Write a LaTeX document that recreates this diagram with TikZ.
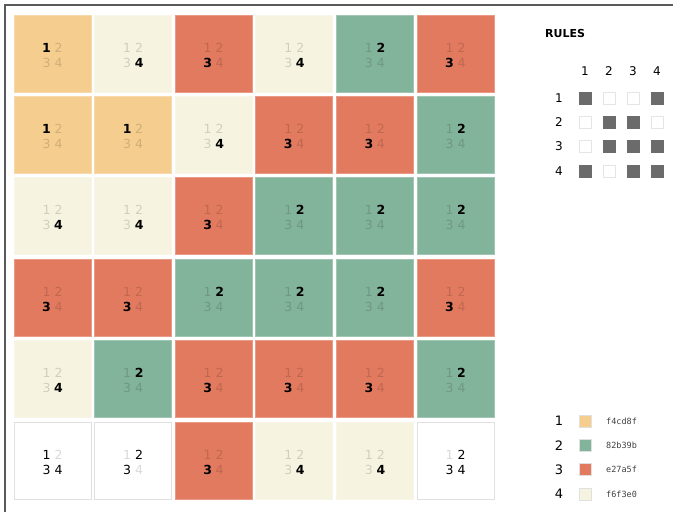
\documentclass[tikz,border=0pt]{standalone}
\usepackage{fontspec}
\setmainfont{DejaVu Sans}
\setmonofont{DejaVu Sans Mono}
\usepackage{tikz}
\usetikzlibrary{positioning,calc}
\definecolor{tile1}{HTML}{F4CD8F}
\definecolor{tile2}{HTML}{82B39B}
\definecolor{tile3}{HTML}{E27A5F}
\definecolor{tile4}{HTML}{F6F3E0}
\definecolor{ruleOn}{HTML}{6B6B6B}
\definecolor{frameGray}{HTML}{5A5A5A}

\begin{document}
\begin{tikzpicture}[
            x=1pt, y=-1pt,
            cell/.style={rectangle, minimum width=77pt, minimum height=77pt, inner sep=0pt, draw=#1!75!white, fill=#1, line width=0.7pt},
            blankcell/.style={rectangle, minimum width=77pt, minimum height=77pt, inner sep=0pt, draw=black!12, fill=white, line width=0.7pt},
            digit/.style={inner sep=0pt, font=\fontsize{12.5}{12.5}\selectfont},
            pick/.style={digit, font=\fontsize{12.5}{12.5}\selectfont\bfseries},
            dim/.style={digit, text=black, text opacity=0.15},
            rulebox/.style={rectangle, minimum size=12pt, inner sep=0pt, line width=0.6pt},
            on/.style={rulebox, fill=ruleOn, draw=ruleOn},
            off/.style={rulebox, fill=white, draw=black!10},
            label/.style={inner sep=0pt, font=\fontsize{12}{12}\selectfont},
            hex/.style={inner sep=0pt, anchor=west, text=black!75, font=\ttfamily\fontsize{8.5}{8.5}\selectfont}
        ]
            \useasboundingbox (0,0) rectangle (673,512);
            \draw[frameGray, line width=1.5pt] (5,512) -- (5,5) -- (673,5);

            % collapsed grid (0 = still open)
            \foreach \vals [count=\r] in {{1,4,3,4,2,3},{1,1,4,3,3,2},{4,4,3,2,2,2},{3,3,2,2,2,3},{4,2,3,3,3,2},{0,0,3,4,4,0}} {
                \foreach \v [count=\c] in \vals {
                    \pgfmathsetmacro\cx{52.5+(\c-1)*80.6}
                    \pgfmathsetmacro\cy{53.5+(\r-1)*81.4}
                    \ifnum\v>0
                        \node[cell=tile\v] (cell-\r-\c) at (\cx,\cy) {};
                        \foreach \d/\dx/\dy in {1/-6/-6, 2/6/-6, 3/-6/9, 4/6/9} {
                            \ifnum\d=\v
                                \node[pick] (d-\r-\c-\d) at ($(cell-\r-\c.center)+(\dx,\dy)$) {\d};
                            \else
                                \node[dim] (d-\r-\c-\d) at ($(cell-\r-\c.center)+(\dx,\dy)$) {\d};
                            \fi
                        }
                    \fi
                }
            }

            % open cells in the last row (1 = still possible)
            \foreach \c/\flags in {1/{1,0,1,1}, 2/{0,1,1,0}, 6/{0,1,1,1}} {
                \pgfmathsetmacro\cx{52.5+(\c-1)*80.6}
                \node[blankcell] (cell-6-\c) at (\cx,460.5) {};
                \foreach \d/\dx/\dy in {1/-6/-6, 2/6/-6, 3/-6/9, 4/6/9} {
                    \pgfmathtruncatemacro\f{{\flags}[\d-1]}
                    \ifnum\f=1
                        \node[digit] (d-6-\c-\d) at ($(cell-6-\c.center)+(\dx,\dy)$) {\d};
                    \else
                        \node[dim] (d-6-\c-\d) at ($(cell-6-\c.center)+(\dx,\dy)$) {\d};
                    \fi
                }
            }

            % rules matrix
            \node[anchor=west, inner sep=0pt, font=\fontsize{11}{11}\selectfont\bfseries] (rules) at (545,33.5) {RULES};
            \foreach \i in {1,...,4} {
                \node[label] (head-\i) at (585+24*\i-24,71) {\i};
            }
            \foreach \row [count=\j] in {{1,0,0,1},{0,1,1,0},{0,1,1,1},{1,0,1,1}} {
                \pgfmathsetmacro\ry{98+24.3*(\j-1)}
                \node[label] (side-\j) at (559,\ry) {\j};
                \foreach \b [count=\i] in \row {
                    \ifnum\b=1
                        \node[on] (r-\j-\i) at (585+24*\i-24,\ry) {};
                    \else
                        \node[off] (r-\j-\i) at (585+24*\i-24,\ry) {};
                    \fi
                }
            }

            % legend
            \foreach \k/\code in {1/f4cd8f, 2/82b39b, 3/e27a5f, 4/f6f3e0} {
                \pgfmathsetmacro\ly{421+24.3*(\k-1)}
                \node[label, font=\fontsize{13}{13}\selectfont] (key-\k) at (559,\ly) {\k};
                \node[rulebox, fill=tile\k, draw=black!12] (swatch-\k) at (585,\ly) {};
                \node[hex] (hex-\k) at (606,\ly) {\code};
            }
        \end{tikzpicture}
\end{document}
